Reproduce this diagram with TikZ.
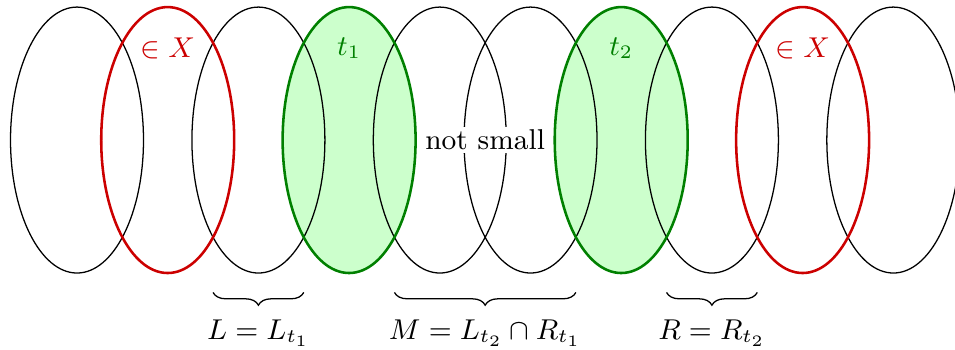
\documentclass[tikz,border=0pt]{standalone}
\usetikzlibrary{decorations.pathreplacing}
\begin{document}
\begin{tikzpicture}[every node/.style={font=\small}]
                \useasboundingbox (-0.849,-2.304) rectangle (9.68,1.544);
                \tikzset{bag/.style={x radius=.733,y radius=1.466},
                         brace/.style={decorate,decoration={brace,mirror,amplitude=4pt}}}
                \foreach \i in {0,...,9} \coordinate (B\i) at (\i,0);
                \fill[green!20] (B3) ellipse[bag] (B6) ellipse[bag];
                \foreach \i in {0,2,4,5,7,9} \draw (B\i) ellipse[bag];
                \draw[thick,red!80!black] (B1) ellipse[bag] (B8) ellipse[bag];
                \draw[thick,green!50!black] (B3) ellipse[bag] (B6) ellipse[bag];
                \node[red!80!black] (x1) at (1,1.01) {$\in X$};
                \node[red!80!black] (x2) at (8,1.01) {$\in X$};
                \node[green!50!black] (t1) at (3,1.01) {$t_1$};
                \node[green!50!black] (t2) at (6,1.01) {$t_2$};
                \node[fill=white,inner sep=1pt] (ns) at (4.5,0) {not small};
                \draw[brace] (1.5,-1.68)--(2.5,-1.68) node[midway,below=5pt] (L) {$L=L_{t_1}$};
                \draw[brace] (3.5,-1.68)--(5.5,-1.68) node[midway,below=5pt] (M) {$M=L_{t_2}\cap R_{t_1}$};
                \draw[brace] (6.5,-1.68)--(7.5,-1.68) node[midway,below=5pt] (R) {$R=R_{t_2}$};
            \end{tikzpicture}
\end{document}
